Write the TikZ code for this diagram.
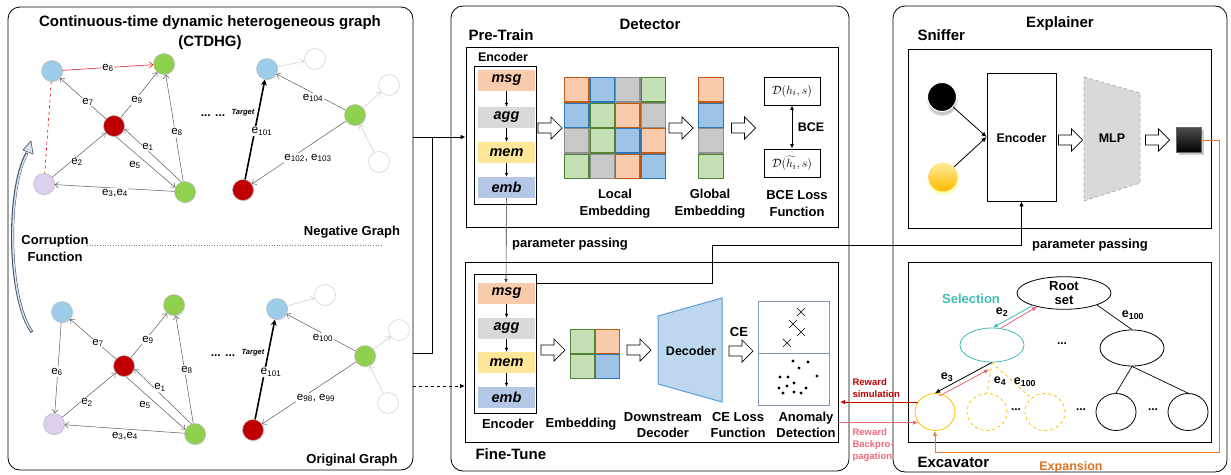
\documentclass[tikz,border=0pt]{standalone}
\usepackage{fontspec}
\setmainfont{Liberation Sans}
\usetikzlibrary{arrows.meta,shapes.geometric,shadows,calc}
\definecolor{cblue}{HTML}{9DCBEA}
\definecolor{cgreen}{HTML}{8FD14F}
\definecolor{cred}{HTML}{C00000}
\definecolor{cpurple}{HTML}{DCD0EE}
\definecolor{fo}{HTML}{F8CBAD}\definecolor{bo}{HTML}{C55A11}
\definecolor{fb}{HTML}{9DC3E6}\definecolor{bb}{HTML}{2E75B6}
\definecolor{fg}{HTML}{C9C9C9}\definecolor{bg}{HTML}{8F8F8F}
\definecolor{fgr}{HTML}{C5E0B4}\definecolor{bgr}{HTML}{548235}
\definecolor{msgc}{HTML}{F8CBAD}\definecolor{aggc}{HTML}{D9D9D9}
\definecolor{memc}{HTML}{FFE699}\definecolor{embc}{HTML}{B4C7E7}
\definecolor{decf}{HTML}{BDD7EE}\definecolor{decd}{HTML}{5B9BD5}
\definecolor{anb}{HTML}{8497B0}
\definecolor{teal2}{HTML}{3CBFB2}
\definecolor{pinkr}{HTML}{F0606F}
\definecolor{rsim}{HTML}{C00000}
\definecolor{rback}{HTML}{EE6A7A}
\definecolor{leafc}{HTML}{FFC000}
\definecolor{expc}{HTML}{ED7D31}
\definecolor{exptxt}{HTML}{D9731F}
\definecolor{slate}{HTML}{3A506B}
\definecolor{slatel}{HTML}{D6E2EE}
\begin{document}
\begin{tikzpicture}[x=1pt,y=-1pt,
  panel/.style={draw, rounded corners=12pt, line width=0.8pt, inner sep=0},
  box/.style={draw, line width=0.9pt, inner sep=0},
  ttl/.style={font=\fontsize{15}{17}\selectfont\bfseries},
  lbl/.style={font=\fontsize{13}{16.5}\selectfont\bfseries, align=center},
  band/.style={minimum width=57pt, minimum height=21pt, inner sep=0, font=\fontsize{14.5}{15}\selectfont\bfseries\itshape},
  gn/.style={circle, minimum size=21pt, inner sep=0, draw=gray!55, line width=0.5pt, drop shadow={opacity=0.2, shadow xshift=0.8pt, shadow yshift=-0.8pt}},
  wn/.style={circle, minimum size=21pt, inner sep=0, draw=gray!40, line width=0.5pt},
  ge/.style={draw=black!65, line width=0.5pt, -{Straight Barb[length=3.5pt,width=6pt]}},
  we/.style={draw=gray!35, line width=0.6pt, -{Straight Barb[length=3.5pt,width=6pt]}},
  te/.style={draw=black, line width=1.6pt, -{Stealth[length=6pt,width=6pt]}},
  el/.style={fill=white, inner sep=0.5pt, font=\fontsize{11.5}{11.5}\selectfont},
  cell/.style={minimum size=24.4pt, inner sep=0, line width=1.1pt},
  co/.style={cell, fill=fo, draw=bo},
  cb/.style={cell, fill=fb, draw=bb},
  cg/.style={cell, fill=fg, draw=bg},
  cn/.style={cell, fill=fgr, draw=bgr},
  sa/.style={-{Latex[length=4pt,width=3.5pt]}, line width=0.6pt},
  la/.style={-{Latex[length=5pt,width=4.5pt]}, line width=0.8pt},
  barr/.pic={\draw[fill=white, line width=0.7pt] (-12,-5) -- (1,-5) -- (1,-11) -- (12,0) -- (1,11) -- (1,5) -- (-12,5) -- cycle;},
  leaf/.style={ellipse, minimum width=40pt, minimum height=37pt, inner sep=0, line width=0.8pt},
  bt/.style={font=\fontsize{12.5}{14}\selectfont\bfseries},
  dbox/.style={draw, line width=0.8pt, minimum width=56pt, minimum height=28pt, inner sep=0, font=\fontsize{13}{13}\selectfont}
]
\useasboundingbox (0,0) rectangle (1231,474);

% ================= Panel 1 =================
\node[panel, minimum width=405pt, minimum height=463pt] (p1) at (210.5,238.5) {};
\node[ttl] (t1) at (210,23) {Continuous-time dynamic heterogeneous graph};
\node[ttl] (t1b) at (210,43) {(CTDHG)};

% top graph nodes
\node[gn, fill=cblue] (A1) at (52,71) {};
\node[gn, fill=cgreen] (G1) at (164,64) {};
\node[gn, fill=cred] (R1) at (114,126) {};
\node[gn, fill=cpurple] (P1) at (44,184) {};
\node[gn, fill=cgreen] (G2) at (185,192) {};
\node[gn, fill=cblue] (B2) at (267,69) {};
\node[gn, fill=cred] (R2) at (243,190) {};
\node[gn, fill=cgreen] (G3) at (355,115) {};
\node[wn] (W1) at (315,59) {};
\node[wn] (W2) at (389,85) {};
\node[wn] (W3) at (379,162) {};

\draw[ge, draw=red!90!black] (A1) -- (G1);
\draw[red!90!black, dashed, line width=0.6pt] (A1) -- (P1);
\draw[ge] (R1) -- (A1);
\draw[ge] (R1) -- (G1);
\draw[ge] (G2) -- (G1);
\draw[ge] (G2.110) -- (R1.-15);
\draw[ge] (R1.-80) -- (G2.155);
\draw[ge] (P1) -- (R1);
\draw[ge] (G2) -- (P1);
\draw[te] (R2) -- (B2);
\draw[ge] (G3) -- (B2);
\draw[ge] (G3) -- (R2);
\draw[we] (B2) -- (W1);
\draw[we] (G3) -- (W2);
\draw[we] (W3) -- (G3);

\node[el] (le6) at (108,68) {e\textsubscript{6}};
\node[el] (le7) at (88,102) {e\textsubscript{7}};
\node[el] (le9) at (137,100) {e\textsubscript{9}};
\node[el] (le8) at (177,132) {e\textsubscript{8}};
\node[el] (le1) at (148,147) {e\textsubscript{1}};
\node[el] (le5) at (135,165) {e\textsubscript{5}};
\node[el] (le2) at (77,162) {e\textsubscript{2}};
\node[el] (le34) at (115,193) {e\textsubscript{3},e\textsubscript{4}};
\node[el, font=\fontsize{12}{12}\selectfont] (le101) at (262,131) {e\textsubscript{101}};
\node[el, font=\fontsize{7.5}{8}\selectfont\bfseries\itshape] (ltg) at (243,113) {Target};
\node[el] (le104) at (313,98) {e\textsubscript{104}};
\node[el] (le102) at (308,158) {e\textsubscript{102}, e\textsubscript{103}};
\node[font=\fontsize{12}{12}\selectfont\bfseries] (dots1) at (213,116) {... ...};
\node[lbl, anchor=center] (neg) at (352,232) {Negative Graph};

% separator and corruption function
\draw[gray, dotted, line width=0.6pt] (87,245) -- (383,245);
\node[lbl] (corr) at (55,248.5) {Corruption\\Function};
\draw[slate, line width=3pt] (32,332) .. controls (8,300) and (6,190) .. (27,153);
\draw[slatel, line width=1.5pt] (31.5,331) .. controls (8.5,300) and (6.5,190) .. (27,154);
\draw[slate, fill=slatel, line width=0.6pt] (23,150) -- (31,141) -- (33,154) -- cycle;

% bottom graph nodes
\node[gn, fill=cblue] (A1b) at (62,312) {};
\node[gn, fill=cgreen] (G1b) at (174,305) {};
\node[gn, fill=cred] (R1b) at (124,366) {};
\node[gn, fill=cpurple] (P1b) at (54,424) {};
\node[gn, fill=cgreen] (G2b) at (195,434) {};
\node[gn, fill=cblue] (B2b) at (277,309) {};
\node[gn, fill=cred] (R2b) at (253,430) {};
\node[gn, fill=cgreen] (G3b) at (365,356) {};
\node[wn] (W1b) at (325,295) {};
\node[wn] (W2b) at (399,330) {};
\node[wn] (W3b) at (388,403) {};

\draw[ge] (A1b) -- (P1b);
\draw[ge] (R1b) -- (A1b);
\draw[ge] (R1b) -- (G1b);
\draw[ge] (G2b) -- (G1b);
\draw[ge] (G2b.110) -- (R1b.-15);
\draw[ge] (R1b.-80) -- (G2b.155);
\draw[ge] (P1b) -- (R1b);
\draw[ge] (G2b) -- (P1b);
\draw[te] (R2b) -- (B2b);
\draw[ge] (G3b) -- (B2b);
\draw[ge] (G3b) -- (R2b);
\draw[we] (B2b) -- (W1b);
\draw[we] (G3b) -- (W2b);
\draw[we] (W3b) -- (G3b);

\node[el] (me6) at (57,372) {e\textsubscript{6}};
\node[el] (me7) at (98,343) {e\textsubscript{7}};
\node[el] (me9) at (148,340) {e\textsubscript{9}};
\node[el] (me8) at (187,370) {e\textsubscript{8}};
\node[el] (me1) at (160,387) {e\textsubscript{1}};
\node[el] (me5) at (145,405) {e\textsubscript{5}};
\node[el] (me2) at (87,402) {e\textsubscript{2}};
\node[el] (me34) at (125,436) {e\textsubscript{3},e\textsubscript{4}};
\node[el, font=\fontsize{12}{12}\selectfont] (me101) at (271,372) {e\textsubscript{101}};
\node[el, font=\fontsize{7.5}{8}\selectfont\bfseries\itshape] (mtg) at (253,353) {Target};
\node[el] (me100) at (323,338) {e\textsubscript{100}};
\node[el] (me98) at (316,398) {e\textsubscript{98}, e\textsubscript{99}};
\node[font=\fontsize{12}{12}\selectfont\bfseries] (dots2) at (223,356) {... ...};
\node[lbl] (orig) at (352,460) {Original Graph};

% ================= Panel 2 =================
\node[panel, minimum width=398pt, minimum height=465pt] (p2) at (650,238.5) {};
\node[ttl] (t2) at (650,24) {Detector};
\node[ttl, anchor=west] (tpt) at (465,35) {Pre-Train};
\node[box, minimum width=372pt, minimum height=180pt] (pt) at (652,137) {};
\node[bt] (encl) at (503,57) {Encoder};
\node[draw, line width=0.8pt, minimum width=62pt, minimum height=138pt, inner sep=0] (enc1) at (505,135) {};
\node[band, fill=msgc] (msg1) at (506.5,80.5) {msg};
\node[band, fill=aggc] (agg1) at (506.5,117.5) {agg};
\node[band, fill=memc] (mem1) at (506.5,152.5) {mem};
\node[band, fill=embc] (emb1) at (506.5,187.5) {emb};
\draw[sa] (msg1) -- (agg1);
\draw[sa] (agg1) -- (mem1);
\draw[sa] (mem1) -- (emb1);

\pic at (550,128) {barr};
\foreach \i/\j/\c in {0/0/o,0/1/b,0/2/g,0/3/n,1/0/b,1/1/n,1/2/o,1/3/g,2/0/g,2/1/n,2/2/b,2/3/o,3/0/n,3/1/g,3/2/o,3/3/b}
  \node[c\c] (le\i\j) at ({576.75+25.5*\j},{89.75+25.5*\i}) {};
\node[lbl] (loc) at (615,203.5) {Local\\Embedding};
\pic at (681,128) {barr};
\foreach \i/\c in {0/o,1/b,2/g,3/n}
  \node[c\c] (ge\i) at (711,{89.75+25.5*\i}) {};
\node[lbl] (glo) at (710,203.5) {Global\\Embedding};
\pic at (743.5,128) {barr};
\node[dbox] (D1) at (792,91) {$\mathcal{D}(h_i,s)$};
\node[dbox] (D2) at (792,163) {$\mathcal{D}(\widetilde{h_i},s)$};
\draw[{Latex[length=4.5pt,width=4pt]}-{Latex[length=4.5pt,width=4pt]}, line width=0.9pt] (D1) -- (D2);
\node[bt] (bce) at (811,127) {BCE};
\node[lbl] (bcel) at (797,203.5) {BCE Loss\\Function};

% parameter passing pre-train -> fine-tune
\draw[sa, draw=black!80] (emb1) -- (506,283);
\node[bt, font=\fontsize{13}{14}\selectfont\bfseries] (pp1) at (570,244) {parameter passing};

\node[box, minimum width=373pt, minimum height=180pt] (ft) at (651.5,352) {};
\node[ttl, anchor=west] (tft) at (472,454) {Fine-Tune};
\node[draw, line width=0.8pt, minimum width=62pt, minimum height=139pt, inner sep=0] (enc2) at (505,343.5) {};
\node[band, fill=msgc] (msg2) at (506.5,293.5) {msg};
\node[band, fill=aggc] (agg2) at (506.5,328.5) {agg};
\node[band, fill=memc] (mem2) at (506.5,362.5) {mem};
\node[band, fill=embc] (emb2) at (506.5,397.5) {emb};
\draw[sa] (msg2) -- (agg2);
\draw[sa] (agg2) -- (mem2);
\draw[sa] (mem2) -- (emb2);
\node[lbl] (encl2) at (508,424) {Encoder};
\pic at (553,350) {barr};
\node[cn] (em1) at (582.5,341.5) {};
\node[co] (em2) at (607.5,341.5) {};
\node[cn] (em3) at (582.5,366.5) {};
\node[cb] (em4) at (607.5,366.5) {};
\node[lbl] (embl) at (581,424) {Embedding};
\pic at (639,350) {barr};
\draw[fill=decf, draw=decd, line width=1pt] (658,316) -- (722,298) -- (722,402) -- (658,384) -- cycle;
\node[bt] (dec) at (691,351) {Decoder};
\node[lbl] (dsl) at (663,425) {Downstream\\Decoder};
\node[bt, font=\fontsize{13}{14}\selectfont\bfseries] (cel) at (739,332) {CE};
\pic at (741,351) {barr};
\node[lbl] (cell2) at (738,425) {CE Loss\\Function};
\node[draw=anb, line width=0.8pt, minimum width=71pt, minimum height=104pt, inner sep=0] (an) at (793.5,353) {};
\draw[anb, line width=0.8pt] (an.west) -- (an.east);
\foreach \x/\y in {801/312,793/324,801/332,787/343}
  \draw[line width=0.6pt] (\x-4,\y-4) -- (\x+4,\y+4) (\x-4,\y+4) -- (\x+4,\y-4);
\foreach \x/\y in {793/361,808/362,799/368,780/377,788/377,817/376,794/383,779/388,787/386,806/388,783/393,794/392,801/393}
  \fill (\x,\y) circle (1.6);
\node[lbl] (anl) at (806,425) {Anomaly\\Detection};

% inputs from panel 1
\coordinate (c1) at (432,353);
\draw[la] (p1.east |- pt.west) -- (pt.west);
\draw[line width=0.8pt] (p1.east |- c1) -- (c1) -- (c1 |- pt.west);
\coordinate (c2) at (465,386);
\draw[la, dashed] (p1.east |- c2) -- (c2);

% ================= Panel 3 =================
\node[panel, minimum width=334pt, minimum height=466pt] (p3) at (1060,239) {};
\node[ttl] (t3) at (1060,24) {Explainer};
\node[ttl, anchor=west] (tsn) at (914,35) {Sniffer};
\node[box, minimum width=303pt, minimum height=179pt] (sn) at (1059.5,138.5) {};
\node[circle, fill=black, draw=white, line width=1pt, minimum size=29pt, inner sep=0, circular drop shadow={shadow xshift=0pt, shadow yshift=-3pt, opacity=0.45}] (bk) at (942,97) {};
\node[circle, top color=yellow!60!orange!40!white, bottom color=leafc!90!orange, minimum size=29pt, inner sep=0, circular drop shadow={fill=yellow!60, shadow xshift=0pt, shadow yshift=-1.5pt, shadow scale=1.15, opacity=0.5}] (yl) at (943,177) {};
\node[draw, line width=0.8pt, minimum width=69pt, minimum height=128pt, inner sep=0] (senc) at (1021.5,137) {};
\node[bt] (sencl) at (1021.5,138) {Encoder};
\draw[la] (bk) -- (senc.west);
\draw[la] (yl) -- (senc.west);
\pic at (1070.5,140) {barr};
\draw[fill=aggc, draw=gray!70, dashed, line width=0.7pt] (1084,77) -- (1140,93) -- (1140,183) -- (1084,201) -- cycle;
\node[bt] (mlp) at (1112,138) {MLP};
\pic at (1157.5,140) {barr};
\node[minimum size=25pt, inner sep=0, top color=black!70, bottom color=black, draw=black!60, drop shadow={opacity=0.4}] (bsq) at (1188.5,140) {};

% param passing fine-tune -> sniffer
\coordinate (q1) at (712,283);
\coordinate (q2) at (712,245);
\draw[la] (enc2.east |- q1) -- (q1) -- (q2) -- (senc.south |- q2) -- (senc.south);
\node[bt, font=\fontsize{13}{14}\selectfont\bfseries] (pp2) at (1090,245) {parameter passing};

% excavator
\node[box, minimum width=303pt, minimum height=180pt] (ex) at (1059.5,352) {};
\node[ttl, anchor=west] (tex) at (914,462) {Excavator};
\node[ellipse, draw, line width=0.8pt, minimum width=94pt, minimum height=31pt, inner sep=0, align=center, font=\fontsize{13}{14}\selectfont\bfseries] (root) at (1064,293) {Root\\set};
\node[ellipse, draw=teal2, line width=0.8pt, minimum width=64pt, minimum height=34pt, inner sep=0] (sel) at (992,345) {};
\node[ellipse, draw, line width=0.8pt, minimum width=64pt, minimum height=36pt, inner sep=0] (re) at (1132,348) {};
\node[leaf, draw=leafc] (L1) at (935,412) {};
\node[leaf, draw=leafc, dashed] (L2) at (987,412) {};
\node[leaf, draw=leafc, dashed] (L3) at (1045,412) {};
\node[leaf, draw] (L4) at (1116,412) {};
\node[leaf, draw] (L5) at (1188,412) {};
\node[font=\fontsize{13}{14}\selectfont\bfseries, text=teal2] (selt) at (971,299) {Selection};
\draw[-{Latex[length=5pt,width=4.5pt]}, teal2, line width=0.8pt] (root.202) -- (sel.87);
\draw[-{Latex[length=5pt,width=4.5pt]}, pinkr, line width=0.8pt] (sel.63) -- (root.207);
\draw[line width=0.7pt] (root.-20) -- (re.north);
\draw[line width=0.7pt] (re.south) -- (L4.north);
\draw[line width=0.7pt] (re.south) -- (L5.north);
\draw[-{Latex[length=5pt,width=4.5pt]}, line width=0.8pt] (sel.south) -- (L1.north);
\draw[-{Latex[length=5pt,width=4.5pt]}, pinkr, line width=0.8pt] ($(L1.north)+(4,3)$) -- ($(sel.south)+(-3,7)$);
\draw[leafc, dashed, line width=0.8pt] (sel.south) -- (L2.north);
\draw[leafc, dashed, line width=0.8pt] (sel.south) -- (L3.135);
\node[bt] (xe2) at (1002,312) {e\textsubscript{2}};
\node[bt] (xe100a) at (1133,315) {e\textsubscript{100}};
\node[bt] (xe3) at (947,377) {e\textsubscript{3}};
\node[bt] (xe4) at (1000,381) {e\textsubscript{4}};
\node[bt] (xe100b) at (1025,382) {e\textsubscript{100}};
\node[font=\fontsize{12}{12}\selectfont\bfseries] (xd1) at (1062,344) {...};
\node[font=\fontsize{12}{12}\selectfont\bfseries] (xd2) at (1016,410) {...};
\node[font=\fontsize{12}{12}\selectfont\bfseries] (xd3) at (1081,410) {...};
\node[font=\fontsize{12}{12}\selectfont\bfseries] (xd4) at (1153,410) {...};

% expansion
\coordinate (e1) at (1219,140);
\coordinate (e2) at (1219,452);
\draw[-{Latex[length=5pt,width=4.5pt]}, expc, line width=0.8pt] (bsq.east) -- (e1) -- (e2) -- (L1.south |- e2) -- (L1.south);
\node[font=\fontsize{12.5}{14}\selectfont\bfseries, text=exptxt] (expt) at (1071,467) {Expansion};

% rewards
\coordinate (rs) at (840,400);
\coordinate (rb) at (838,423);
\draw[-{Latex[length=5pt,width=4.5pt]}, rsim, line width=0.8pt] (L1.150) -- (L1.150 -| rs);
\draw[-{Latex[length=5pt,width=4.5pt]}, rback, line width=0.8pt] (L1.212 -| rb) -- (L1.212);
\node[anchor=west, align=left, text=rsim, font=\fontsize{9.5}{12}\selectfont\bfseries] (rst) at (849,388) {Reward\\simulation};
\node[anchor=west, align=left, text=rback, font=\fontsize{9.5}{12}\selectfont\bfseries] (rbt) at (849,445) {Reward\\Backpro-\\pagation};
\end{tikzpicture}
\end{document}
